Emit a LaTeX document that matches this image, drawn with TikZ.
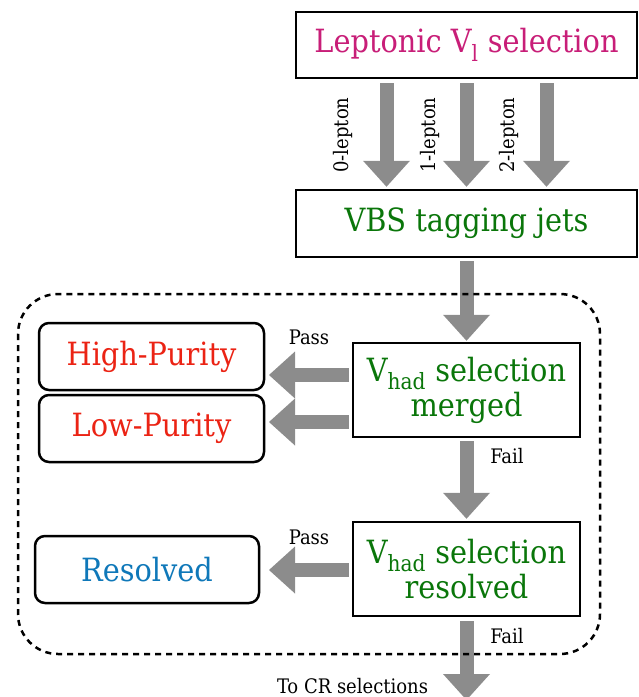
\documentclass[tikz,border=0pt]{standalone}
\usepackage{fontspec}
\setmainfont{DejaVu Serif Condensed}
\usetikzlibrary{arrows.meta}
\definecolor{lepcol}{RGB}{200,30,120}
\definecolor{selgreen}{RGB}{10,118,10}
\definecolor{purred}{RGB}{235,35,20}
\definecolor{resblue}{RGB}{15,120,185}
\definecolor{arrgray}{RGB}{140,140,140}
\tikzset{
    selbox/.style={rectangle, draw, line width=2.5pt, align=center, inner sep=0pt,
        font=\fontsize{32}{35}\selectfont},
    catbox/.style={rectangle, rounded corners=10pt, draw, line width=2.5pt, inner sep=0pt,
        minimum width=225pt, minimum height=67pt, font=\fontsize{32}{35}\selectfont}
}
\tikzset{
    fat/.style={draw=arrgray, line width=14pt,
        -{Triangle[width=47pt, length=26pt, line width=0pt]}},
    cut/.style={inner sep=0pt, font=\fontsize{20}{22}\selectfont}
}

\begin{document}
\begin{tikzpicture}[x=1pt, y=-1pt]
    \useasboundingbox (0,0) rectangle (639,697);

    \node (lep) [selbox, minimum width=341pt, minimum height=66pt, text=lepcol] at (466.5, 45) {Leptonic V\textsubscript{l} selection};
    \node (vbs) [selbox, minimum width=341pt, minimum height=67pt, text=selgreen] at (466.5, 223.5) {VBS tagging jets};
    \node (mrg) [selbox, minimum width=227pt, minimum height=94pt, text=selgreen] at (466.5, 390) {V\textsubscript{had} selection\\merged};
    \node (rsv) [selbox, minimum width=227pt, minimum height=94pt, text=selgreen] at (466.5, 569) {V\textsubscript{had} selection\\resolved};
    \node (hp) [catbox, text=purred] at (151.5, 356.5) {High-Purity};
    \node (lp) [catbox, text=purred] at (151.5, 428.5) {Low-Purity};
    \node (res) [catbox, minimum width=224pt, text=resblue] at (147, 569.5) {Resolved};

    \node (l0) [cut, rotate=90] at (343, 135) {0-lepton};
    \node (l1) [cut, rotate=90] at (430, 135) {1-lepton};
    \node (l2) [cut, rotate=90] at (509, 135) {2-lepton};
    \node (pass1) [cut] at (309, 337) {Pass};
    \node (fail1) [cut] at (507, 456) {Fail};
    \node (pass2) [cut] at (309, 537) {Pass};
    \node (fail2) [cut] at (507, 636) {Fail};
    \node (tocr) [cut] at (352.5, 686) {To CR selections};

    \coordinate (hptip) at (269, 375);
    \coordinate (lptip) at (269, 422);
    \coordinate (restip) at (269, 570);
    \coordinate (crtip) at (466.5, 700);

    \draw[fat, shorten <=4pt, shorten >=2pt] ([xshift=-80pt]lep.south) -- ([xshift=-80pt]vbs.north);
    \draw[fat, shorten <=4pt, shorten >=2pt] (lep.south) -- (vbs.north);
    \draw[fat, shorten <=4pt, shorten >=2pt] ([xshift=80pt]lep.south) -- ([xshift=80pt]vbs.north);
    \draw[fat, shorten <=3pt, shorten >=1pt] (vbs) -- (mrg);
    \draw[fat, shorten <=3pt, shorten >=2pt] (mrg) -- (rsv);
    \draw[fat, shorten <=4pt] (rsv) -- (crtip);
    \draw[fat, shorten <=3pt] (mrg.west |- hptip) -- (hptip);
    \draw[fat, shorten <=3pt] (mrg.west |- lptip) -- (lptip);
    \draw[fat, shorten <=3pt] (rsv.west |- restip) -- (restip);

    % region of the V_had selections
    \draw[line width=2.5pt, dash pattern=on 6pt off 5pt, rounded corners=40pt] (18,294) rectangle (600,654);
\end{tikzpicture}
\end{document}
